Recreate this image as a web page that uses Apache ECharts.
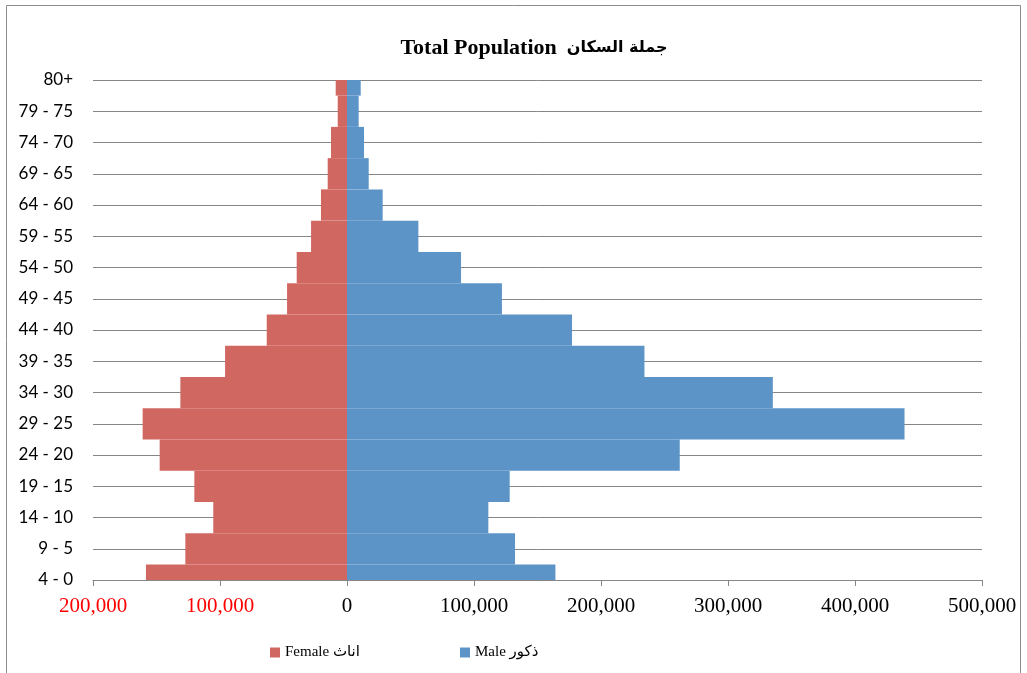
<!DOCTYPE html>
<html>
<head>
<meta charset="utf-8">
<script src="https://cdn.jsdelivr.net/npm/echarts@6/dist/echarts.min.js"></script>
<style>html,body{margin:0;padding:0;background:#fff;}#c{width:1027px;height:673px;}</style>
</head>
<body>
<div id="c"></div>
<script>
const ageGroups = ['4 - 0','9 - 5','14 - 10','19 - 15','24 - 20','29 - 25','34 - 30','39 - 35','44 - 40','49 - 45','54 - 50','59 - 55','64 - 60','69 - 65','74 - 70','79 - 75','80+'];
const female = [158300,127300,105300,120200,147500,160900,131200,96000,63200,47200,39600,28300,20500,15200,12600,7300,8900];
const male = [164100,132300,111300,128100,262000,439000,335300,234200,177200,122000,89800,56200,28100,17100,13400,9200,10800];
const xTicks = {min:-200000, max:500000, interval:100000};
const titleEn = 'Total Population';
const titleAr = 'جملة السكان';
const femaleName = 'Female اناث';
const maleName = 'Male ذكور';

const chart = echarts.init(document.getElementById('c'), null, {renderer:'canvas'});
const fmt = v => Math.abs(v).toLocaleString('en-US');
const legendText = {fontFamily:'Liberation Serif, DejaVu Sans', fontSize:15, color:'#000'};
chart.setOption({
  animation:false,
  backgroundColor:'#fff',
  graphic:[
    {type:'rect', z:1, shape:{x:6.5,y:5.5,width:1014,height:700}, style:{fill:'none', stroke:'#8c8c8c', lineWidth:1}, silent:true},
    {type:'rect', z:3, shape:{x:88,y:50,width:902,height:30}, style:{fill:'#fff'}, silent:true},
    {type:'rect', z:3, shape:{x:88,y:581,width:902,height:18}, style:{fill:'#fff'}, silent:true}
  ],
  title:{text:'{en|' + titleEn + '}  {ar|' + titleAr + '}', left:529, top:32, textAlign:'center',
    textStyle:{rich:{
      en:{fontFamily:'Liberation Serif', fontWeight:'bold', fontSize:22, color:'#000'},
      ar:{fontFamily:'DejaVu Sans', fontWeight:'bold', fontSize:16, color:'#000'}
    }}},
  legend:[
    {data:[femaleName], left:265, top:640, itemWidth:10, itemHeight:10, itemGap:4, icon:'rect', textStyle:legendText},
    {data:[maleName], left:455, top:640, itemWidth:10, itemHeight:10, itemGap:4, icon:'rect', textStyle:legendText}
  ],
  grid:{left:93, right:45, top:80, bottom:93, containLabel:false},
  xAxis:{type:'value', min:xTicks.min, max:xTicks.max, interval:xTicks.interval, z:4,
    axisLine:{show:true, lineStyle:{color:'#868686', width:1}},
    axisTick:{show:true, length:6, lineStyle:{color:'#868686'}},
    splitLine:{show:false},
    axisLabel:{margin:16, fontFamily:'Liberation Serif', fontSize:21,
      color:(v)=> v<0 ? '#ff0000' : '#000', formatter:fmt}
  },
  yAxis:{type:'category', data:ageGroups, boundaryGap:false,
    axisLine:{show:false}, axisTick:{show:false},
    splitLine:{show:true, lineStyle:{color:'#868686', width:1}},
    axisLabel:{margin:20, fontFamily:'Lato, Noto Sans', fontSize:17, color:'#000'}
  },
  series:[
    {name:femaleName, type:'bar', data:female.map(v=>-v), barWidth:'100%', barGap:'-100%',
      itemStyle:{color:'#D16761'}},
    {name:maleName, type:'bar', data:male, barWidth:'100%', barGap:'-100%',
      itemStyle:{color:'#5D94C8'}}
  ]
});
</script>
</body>
</html>
